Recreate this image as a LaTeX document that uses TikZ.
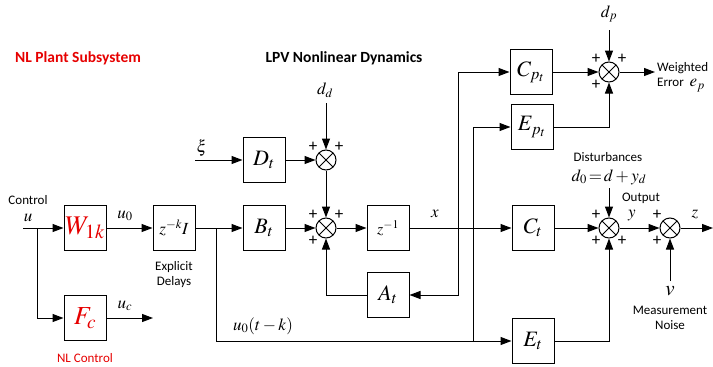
\documentclass[tikz,border=0pt]{standalone}
\usepackage{mathptmx}
\usepackage[no-math]{fontspec}
\setmainfont{Carlito}
\usetikzlibrary{arrows.meta,calc}
\definecolor{nlred}{RGB}{230,0,0}
\tikzset{
  blk/.style={draw,line width=1pt,minimum width=42pt,minimum height=45pt,inner sep=0pt,font=\fontsize{22}{22}\selectfont},
  sumj/.style={draw,circle,line width=1pt,minimum size=20pt,inner sep=0pt,
    path picture={\draw[line width=1pt] (path picture bounding box.north west) -- (path picture bounding box.south east)
      (path picture bounding box.north east) -- (path picture bounding box.south west);}},
  arr/.style={line width=1pt,-{Triangle[length=11pt,width=8pt]}},
  ln/.style={line width=1pt},
  pl/.style={font=\fontsize{17}{17}\selectfont,inner sep=0pt},
  lbl/.style={font=\fontsize{13}{13}\selectfont,inner sep=0pt},
  sig/.style={font=\fontsize{17}{17}\selectfont,inner sep=0pt},
}
\newcommand{\plusat}[3]{\node[pl] at ($(#1)+(#2,#3)$) {+};}
\begin{document}
\begin{tikzpicture}[x=1pt,y=-1pt]
\useasboundingbox (0,0) rectangle (713,367);
% titles
\node[font=\fontsize{15.5}{15.5}\selectfont\bfseries,text=nlred] (t1) at (78,58) {NL Plant Subsystem};
\node[font=\fontsize{15.5}{15.5}\selectfont\bfseries] (t2) at (344,58) {LPV Nonlinear Dynamics};
% blocks
\node[blk,text=nlred,font=\fontsize{27}{27}\selectfont] (W) at (85,228) {$W_{1k}$};
\node[blk,text=nlred,font=\fontsize{26}{26}\selectfont] (Fc) at (85,318) {$F_c$};
\node[blk,font=\fontsize{17}{17}\selectfont] (zd) at (174,228) {$z^{-k}I$};
\node[blk] (Dt) at (264,160) {$D_t$};
\node[blk] (Bt) at (264,228) {$B_t$};
\node[blk,font=\fontsize{16}{16}\selectfont] (zi) at (388,228) {$z^{-1}$};
\node[blk] (At) at (388,295) {$A_t$};
\node[blk] (Cpt) at (531,72) {$C_{p_t}$};
\node[blk] (Ept) at (532,127) {$E_{p_t}$};
\node[blk] (Ct) at (533,228) {$C_t$};
\node[blk] (Et) at (533,341) {$E_t$};
% sums
\node[sumj] (s1) at (326,160) {};
\node[sumj] (s2) at (326,228) {};
\node[sumj] (s3) at (609,72) {};
\node[sumj] (s4) at (609,228) {};
\node[sumj] (s5) at (670,228) {};
% plus signs
\plusat{s1}{-13}{-13}\plusat{s1}{13}{-13}
\plusat{s2}{-13}{-13}\plusat{s2}{13}{-13}\plusat{s2}{-13}{13}
\plusat{s3}{-13}{-13}\plusat{s3}{13}{-13}\plusat{s3}{-13}{13}
\plusat{s4}{-13}{-13}\plusat{s4}{-13}{13}\plusat{s4}{13}{13}
\plusat{s5}{-13}{-13}\plusat{s5}{-13}{13}
% coordinates
\coordinate (uin) at (23,228);
\coordinate (b1) at (37,228);
\coordinate (ucend) at (153,318);
\coordinate (b2) at (216,228);
\coordinate (xiin) at (195,160);
\coordinate (ddin) at (326,103);
\coordinate (j1) at (458,228);
\coordinate (j2) at (473,341);
\coordinate (dpin) at (609,30);
\coordinate (epend) at (655,72);
\coordinate (d0in) at (609,188);
\coordinate (zend) at (713,228);
\coordinate (vin) at (670,281);
% texts
\node[lbl] (ctl) at (28,200) {Control};
\node[sig] (u) at (28,218) {$u$};
\node[sig] (u0) at (125,216) {$u_0$};
\node[sig] (uc) at (125,306) {$u_c$};
\node[lbl,align=center] (ed) at (174,275) {Explicit\\[2pt]Delays};
\node[lbl,text=nlred] (nlc) at (85,358) {NL Control};
\node[sig] (xi) at (202,148) {$\xi$};
\node[sig] (dd) at (325,90) {$d_d$};
\node[sig] (x) at (435,214) {$x$};
\node[sig] (u0tk) at (263,326) {$u_0(t-k)$};
\node[sig] (dp) at (609,14) {$d_p$};
\node[lbl,anchor=west] (we) at (657,68) {Weighted};
\node[lbl,anchor=west] (er) at (657,85) {Error\ \ {\fontsize{17}{17}\selectfont$e_p$}};
\node[lbl] (dist) at (608,157) {Disturbances};
\node[sig] (d0) at (609,177) {$d_0\!=\!d+y_d$};
\node[lbl] (outl) at (641,198) {Output};
\node[sig] (y) at (632,216) {$y$};
\node[sig] (z) at (695,214) {$z$};
\node[sig,font=\fontsize{21}{21}\selectfont] (v) at (670,291) {$v$};
\node[lbl,align=center] (mn) at (670,318) {Measurement\\[2pt]Noise};
% connectors
\draw[arr] (uin) -- (W.west);
\draw[arr] (b1) |- (Fc.west);
\draw[arr] (W.east) -- (zd.west);
\draw[arr] (Fc.east) -- (ucend);
\draw[arr] (zd.east) -- (Bt.west);
\draw[arr] (b2) |- (Et.west);
\draw[arr] (xiin) -- (Dt.west);
\draw[arr] (Dt.east) -- (s1.west);
\draw[arr] (ddin) -- (s1.north);
\draw[arr] (s1.south) -- (s2.north);
\draw[arr] (Bt.east) -- (s2.west);
\draw[arr] (s2.east) -- (zi.west);
\draw[arr] (zi.east) -- (Ct.west);
\draw[arr] (j1) |- (Cpt.west);
\draw[arr] (j1) |- (At.east);
\draw[arr] (At.west) -| (s2.south);
\draw[arr] (j2) |- (Ept.west);
\draw[arr] (Cpt.east) -- (s3.west);
\draw[arr] (dpin) -- (s3.north);
\draw[arr] (Ept.east) -| (s3.south);
\draw[arr] (s3.east) -- (epend);
\draw[arr] (Ct.east) -- (s4.west);
\draw[arr] (d0in) -- (s4.north);
\draw[arr] (Et.east) -| (s4.south);
\draw[arr] (s4.east) -- (s5.west);
\draw[arr] (s5.east) -- (zend);
\draw[arr] (vin) -- (s5.south);
\end{tikzpicture}
\end{document}
